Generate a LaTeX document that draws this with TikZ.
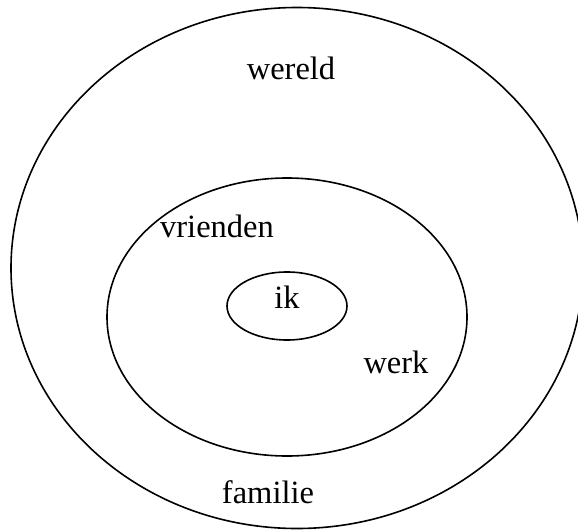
\documentclass[tikz,border=0pt]{standalone}
\usepackage{fontspec}
\setmainfont{Liberation Serif}
\usetikzlibrary{positioning}
\usetikzlibrary{shapes.geometric}

\begin{document}
\begin{tikzpicture}[x=1pt,y=-1pt,line width=1.6pt,
  lbl/.style={font=\fontsize{32.5}{36}\selectfont,inner sep=0pt}]
\useasboundingbox (0,0) rectangle (578,530);
\clip (0,0) rectangle (578,530);
% rings
\node[draw,ellipse,inner sep=0pt,minimum width=572pt,minimum height=521pt](wereldring) at (297,268){};
\node[draw,ellipse,inner sep=0pt,minimum width=360pt,minimum height=278pt](middenring) at (287,317){};
\node[draw,ellipse,inner sep=0pt,minimum width=120pt,minimum height=68pt](ikring) at (287,306){};
% labels
\node[lbl](ik) at (287,297){ik};
\node[lbl](wereld) at (291,68){wereld};
\node[lbl](vrienden) at (217,226){vrienden};
\node[lbl](werk) at (396,362){werk};
\node[lbl](familie) at (268,492){familie};
\end{tikzpicture}
\end{document}
